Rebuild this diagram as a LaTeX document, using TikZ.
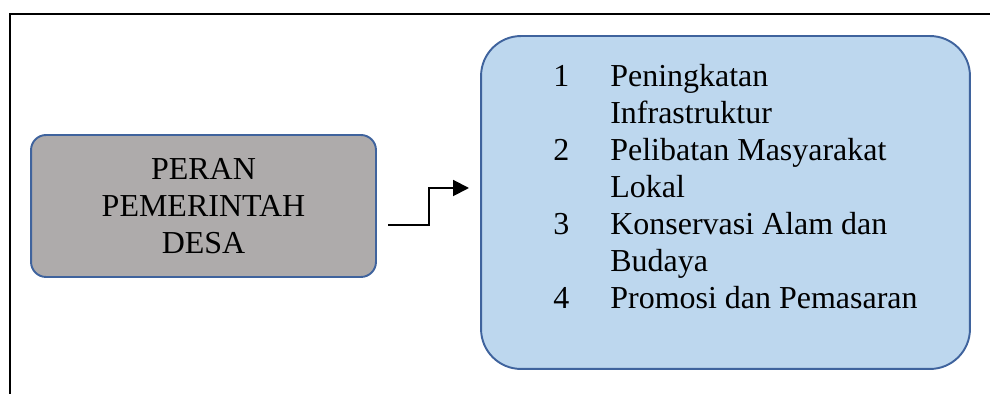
\documentclass[tikz,border=0pt]{standalone}
\usepackage{fontspec}
\setmainfont{Liberation Serif}
\usepackage{tikz}
\usepackage{xcolor}
\usetikzlibrary{arrows.meta}

\definecolor{kotakAbu}{HTML}{AEABAB}
\definecolor{kotakBiru}{HTML}{BDD7EE}
\definecolor{garisBiru}{HTML}{3F639D}

\begin{document}
\begin{tikzpicture}[
  x=0.02cm, y=-0.02cm,
  font=\fontsize{18.2}{21}\selectfont,
  kotak/.style={draw=garisBiru, line width=1.1pt, inner sep=0},
  panah/.style={line width=1.1pt, -{Triangle[length=9pt, width=9pt]}},
]
\useasboundingbox (0,0) rectangle (990,394);
% --- bingkai luar ---
\draw[line width=1.2pt] (10,394) -- (10,14) -- (990,14);
% ===================== PERAN PEMERINTAH DESA =====================
\node[kotak, fill=kotakAbu, rounded corners=0.3cm, minimum width=6.9cm, minimum height=2.84cm,
      align=center] (peran) at (203.5,206) {PERAN\\PEMERINTAH\\DESA};
% ===================== DAFTAR PROGRAM =====================
\node[kotak, fill=kotakBiru, rounded corners=0.8cm, minimum width=9.78cm, minimum height=6.66cm]
  (program) at (725.5,202.5) {};
\node[anchor=base west, inner sep=0] (daftar) at (553,87) {%
  \begin{tabular}[t]{@{}p{1.14cm}@{}l@{}}
  1 & Peningkatan \\
    & Infrastruktur \\
  2 & Pelibatan Masyarakat \\
    & Lokal \\
  3 & Konservasi Alam dan \\
    & Budaya \\
  4 & Promosi dan Pemasaran
  \end{tabular}};
% --- panah ---
\coordinate (awal) at (388,225);
\coordinate (ujung) at (469,188);
\draw[panah] (awal) -- ++(41,0) |- (ujung);
\end{tikzpicture}
\end{document}
